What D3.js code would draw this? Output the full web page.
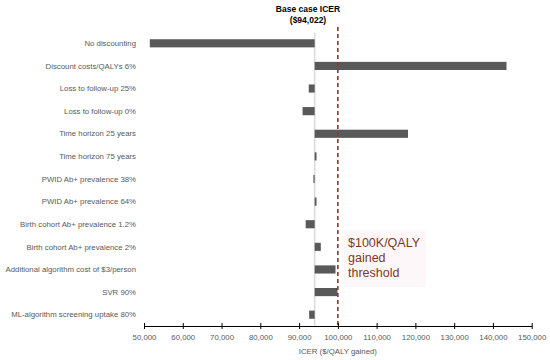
<!DOCTYPE html>
<html>
<head>
<meta charset="utf-8">
<script src="https://cdn.jsdelivr.net/npm/d3@7"></script>
<style>
  body { margin: 0; background: #fff; }
  svg { display: block; font-family: "Liberation Sans", Arial, sans-serif; }
</style>
</head>
<body>
<div id="chart"></div>
<script>
// scenario labels, top to bottom
const scenarios = [
  'No discounting',
  'Discount costs/QALYs 6%',
  'Loss to follow-up 25%',
  'Loss to follow-up 0%',
  'Time horizon 25 years',
  'Time horizon 75 years',
  'PWID Ab+ prevalence 38%',
  'PWID Ab+ prevalence 64%',
  'Birth cohort Ab+ prevalence 1.2%',
  'Birth cohort Ab+ prevalence 2%',
  'Additional algorithm cost of $3/person',
  'SVR 90%',
  'ML-algorithm screening uptake 80%'
];
// ICER for each scenario ($/QALY)
const icers = [51500, 143500, 92500, 90900, 118100, 94500, 93700, 94500, 91700, 95600, 99400, 99900, 92600];
const baseIcer = 94022;
const threshold = 100000;
const xTicks = [50000, 60000, 70000, 80000, 90000, 100000, 110000, 120000, 130000, 140000, 150000];

const width = 550, height = 360;
const svg = d3.select('#chart').append('svg')
  .attr('width', width)
  .attr('height', height);

const x = d3.scaleLinear().domain([50000, 150000]).range([144, 531.7]);
const y = d3.scaleBand().domain(scenarios).range([32, 326]).paddingInner(0.64).paddingOuter(0.32);

// base case line
svg.append('line')
  .attr('x1', x(baseIcer)).attr('x2', x(baseIcer))
  .attr('y1', 33).attr('y2', 326)
  .attr('stroke', '#d9d9d9')
  .attr('stroke-width', 1.5);

// faint highlight behind threshold text
svg.append('rect')
  .attr('x', x(threshold) + 6).attr('y', 230)
  .attr('width', 82).attr('height', 57)
  .attr('fill', '#fef7f9');

// bars
svg.selectAll('rect.bar')
  .data(icers)
  .enter()
  .append('rect')
  .attr('class', 'bar')
  .attr('x', (d) => Math.min(x(d), x(baseIcer)))
  .attr('y', (d, i) => y(scenarios[i]))
  .attr('width', (d) => Math.max(1.2, Math.abs(x(d) - x(baseIcer))))
  .attr('height', y.bandwidth())
  .attr('fill', '#595959');

// scenario labels
svg.selectAll('text.label')
  .data(scenarios)
  .enter()
  .append('text')
  .attr('class', 'label')
  .attr('x', 136)
  .attr('y', (d) => y(d) + y.bandwidth() / 2)
  .attr('dy', '0.35em')
  .attr('text-anchor', 'end')
  .attr('fill', '#595959')
  .style('font-size', '7.8px')
  .text((d) => d);

// threshold line
svg.append('line')
  .attr('x1', x(threshold)).attr('x2', x(threshold))
  .attr('y1', 27).attr('y2', 326)
  .attr('stroke', '#8b3a22')
  .attr('stroke-width', 1.6)
  .attr('stroke-dasharray', '4,3');

// axis
const axis = d3.axisBottom(x)
  .tickValues(xTicks)
  .tickFormat(d3.format(','))
  .tickSize(0)
  .tickPadding(8);
const gAxis = svg.append('g')
  .attr('transform', 'translate(0,326)')
  .call(axis);
gAxis.select('.domain').attr('stroke', '#000').attr('stroke-width', 1);
gAxis.selectAll('.tick text')
  .attr('fill', '#595959')
  .style('font-size', '7.8px')
  .style('font-family', '"Liberation Sans", Arial, sans-serif');
gAxis.selectAll('.tick').append('line')
  .attr('y1', -3).attr('y2', 3)
  .attr('stroke', '#000')
  .attr('stroke-width', 1);

svg.append('text')
  .attr('x', x(100000))
  .attr('y', 354)
  .attr('text-anchor', 'middle')
  .attr('fill', '#595959')
  .style('font-size', '7.8px')
  .text('ICER ($/QALY gained)');

// base case title
svg.append('text')
  .attr('x', 308).attr('y', 12)
  .attr('text-anchor', 'middle')
  .style('font-size', '8.5px')
  .style('font-weight', 'bold')
  .attr('fill', '#000')
  .text('Base case ICER');
svg.append('text')
  .attr('x', 308).attr('y', 23)
  .attr('text-anchor', 'middle')
  .style('font-size', '8.5px')
  .style('font-weight', 'bold')
  .attr('fill', '#000')
  .text('($94,022)');

// threshold annotation
const thrLines = ['$100K/QALY', 'gained', 'threshold'];
svg.selectAll('text.thr')
  .data(thrLines)
  .enter()
  .append('text')
  .attr('class', 'thr')
  .attr('x', 348)
  .attr('y', (d, i) => 247 + i * 15)
  .attr('fill', '#7b3a1c')
  .style('font-size', '12.5px')
  .text((d) => d);
</script>
</body>
</html>
